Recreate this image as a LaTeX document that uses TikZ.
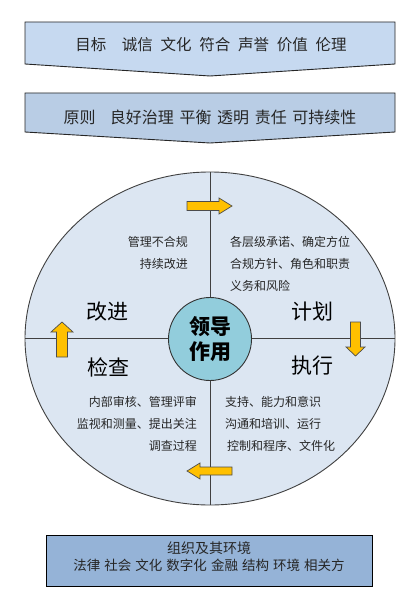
\documentclass[tikz,border=0pt]{standalone}
\usepackage{fontspec}
\setmainfont{Noto Sans CJK SC}
\definecolor{banA}{HTML}{C6D9F0}
\definecolor{banB}{HTML}{B9CDE5}
\definecolor{envbox}{HTML}{95B3D7}
\definecolor{ringfill}{HTML}{DCE6F2}
\definecolor{corefill}{HTML}{92CDDC}
\definecolor{arrowyellow}{HTML}{FFC000}
\definecolor{linegray}{HTML}{404040}
\definecolor{txt}{HTML}{262626}
\tikzset{
  banner/.style={draw=black!85, line width=0.9pt},
  blockarrow/.style={fill=arrowyellow, draw=black!70, line width=0.7pt, line join=miter},
  divider/.style={draw=linegray, line width=0.9pt},
  small/.style={font=\fontsize{12}{22}\selectfont, text=txt, inner sep=0pt},
  phase/.style={font=\fontsize{21}{24}\selectfont, text=black, inner sep=0pt},
  bantext/.style={font=\fontsize{15.5}{18}\selectfont, text=txt, inner sep=0pt},
}
\begin{document}
\begin{tikzpicture}[x=1pt,y=-1pt]
\useasboundingbox (0,0) rectangle (417,612);
% banners
\draw[banner, fill=banA] (25,22) -- (395,22) -- (395,64) -- (210,76) -- (25,64) -- cycle;
\node[bantext] (b1) at (211,45) {目标\hspace{1em}诚信\hspace{0.5em}文化\hspace{0.5em}符合\hspace{0.5em}声誉\hspace{0.5em}价值\hspace{0.5em}伦理};
\draw[banner, fill=banB] (25,93) -- (395,93) -- (395,132) -- (210,143) -- (25,132) -- cycle;
\node[bantext, font=\fontsize{16}{18}\selectfont] (b2) at (210,117) {原则\hspace{0.9em}良好治理\hspace{0.35em}平衡\hspace{0.35em}透明\hspace{0.35em}责任\hspace{0.35em}可持续性};
% ellipse
\draw[draw=linegray, line width=0.9pt, fill=ringfill] (210,338.5) ellipse [x radius=185, y radius=166.5];
\coordinate (etop) at (210,172);
\coordinate (ebot) at (210,505);
\coordinate (eleft) at (25,338.5);
\coordinate (eright) at (395,338.5);
\draw[divider] (etop) -- (ebot);
\draw[divider] (eleft) -- (eright);
\node[circle, draw=black!80, line width=0.9pt, fill=corefill, minimum size=83pt, inner sep=0pt,
      font=\fontsize{21}{25}\selectfont\bfseries, align=center] (core) at (210,339) {领导\\作用};
% phases
\node[phase] (p1) at (107,312) {改进};
\node[phase] (p2) at (312,312) {计划};
\node[phase] (p3) at (108,367) {检查};
\node[phase] (p4) at (312,366) {执行};
% small texts
\node[small, align=right, anchor=east] (t1) at (188,253) {管理不合规\\持续改进};
\node[small, align=left, anchor=west] (t2) at (230,264) {各层级承诺、确定方位\\合规方针、角色和职责\\义务和风险};
\node[small, align=right, anchor=east] (t3) at (197,424) {内部审核、管理评审\\监视和测量、提出关注\\调查过程};
\node[small, align=left, anchor=west] (t4) at (225,424) {支持、能力和意识\\沟通和培训、运行\\\hspace{2pt}控制和程序、文件化};
% arrows
\draw[blockarrow] (187,201.5) -- (219,201.5) -- (219,198) -- (232,206) -- (219,214) -- (219,210.5) -- (187,210.5) -- cycle;
\draw[blockarrow] (232,467) -- (200,467) -- (200,463) -- (187,471) -- (200,479) -- (200,475) -- (232,475) -- cycle;
\draw[blockarrow] (56.5,357) -- (56.5,332) -- (51,332) -- (62,322) -- (73,332) -- (67.5,332) -- (67.5,357) -- cycle;
\draw[blockarrow] (350.5,322) -- (350.5,347) -- (346,347) -- (355.5,356) -- (365,347) -- (360.5,347) -- (360.5,322) -- cycle;
% environment box
\node[draw=black, line width=0.9pt, fill=envbox, minimum width=326pt, minimum height=51pt, inner sep=0pt] (env) at (209,560.5) {};
\node[font=\fontsize{14}{17}\selectfont, text=txt, inner sep=0pt] (e1) at (209,548) {组织及其环境};
\node[font=\fontsize{13.5}{17}\selectfont, text=txt, inner sep=0pt] (e2) at (209,565) {法律\hspace{0.3em}社会\hspace{0.3em}文化\hspace{0.3em}数字化\hspace{0.3em}金融\hspace{0.3em}结构\hspace{0.3em}环境\hspace{0.3em}相关方};
\end{tikzpicture}
\end{document}
